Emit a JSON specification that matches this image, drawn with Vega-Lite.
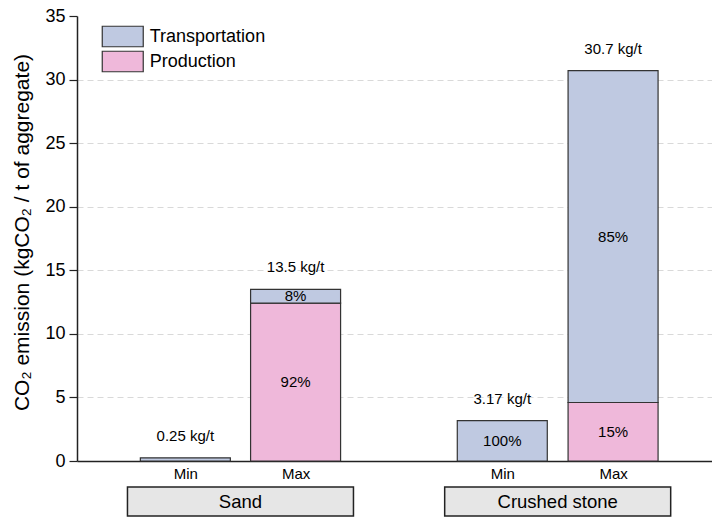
{
  "$schema": "https://vega.github.io/schema/vega-lite/v6.json",
  "width": 635,
  "height": 445,
  "autosize": "none",
  "padding": {"left": 77, "top": 16, "right": 0, "bottom": 56},
  "background": "white",
  "config": {"font": "Liberation Sans", "view": {"stroke": null}},
  "datasets": {
    "bars": [
      {"group": "Sand", "case": "Min", "pos": 1, "component": "Transportation", "value": 0.25, "pct": "", "total": "0.25 kg/t"},
      {"group": "Sand", "case": "Max", "pos": 2, "component": "Production", "value": 12.42, "pct": "92%", "total": ""},
      {"group": "Sand", "case": "Max", "pos": 2, "component": "Transportation", "value": 1.08, "pct": "8%", "total": "13.5 kg/t"},
      {"group": "Crushed stone", "case": "Min", "pos": 3.875, "component": "Transportation", "value": 3.17, "pct": "100%", "total": "3.17 kg/t"},
      {"group": "Crushed stone", "case": "Max", "pos": 4.88, "component": "Production", "value": 4.6, "pct": "15%", "total": ""},
      {"group": "Crushed stone", "case": "Max", "pos": 4.88, "component": "Transportation", "value": 26.1, "pct": "85%", "total": "30.7 kg/t"}
    ],
    "groups": [
      {"group": "Sand", "center": 1.5},
      {"group": "Crushed stone", "center": 4.3775}
    ]
  },
  "layer": [
    {
      "data": {"name": "bars"},
      "transform": [
        {"stack": "value", "groupby": ["pos"], "sort": [{"field": "component", "order": "ascending"}], "as": ["v0", "v1"]}
      ],
      "mark": {"type": "bar", "width": 90, "stroke": "#333333", "strokeWidth": 1.2, "orient": "vertical"},
      "encoding": {
        "x": {
          "field": "pos", "type": "quantitative",
          "scale": {"domain": [0.0625, 5.732], "nice": false, "zero": false},
          "axis": {
            "values": [1, 2, 3.875, 4.88],
            "labelExpr": "(datum.value < 1.5 || (datum.value > 3 && datum.value < 4.4)) ? 'Min' : 'Max'",
            "title": null, "grid": false, "ticks": false,
            "domainColor": "#222222", "domainWidth": 1.5,
            "labelFontSize": 15, "labelColor": "black", "labelPadding": 5
          }
        },
        "y": {
          "field": "v1", "type": "quantitative",
          "scale": {"domain": [0, 35], "nice": false},
          "axis": {
            "values": [0, 2.5, 5, 7.5, 10, 12.5, 15, 17.5, 20, 22.5, 25, 27.5, 30, 32.5, 35],
            "labelExpr": "datum.value % 5 === 0 ? datum.label : ''",
            "tickSize": {"condition": {"test": "datum.value % 5 !== 0", "value": 4.5}, "value": 8},
            "tickColor": "#222222", "tickWidth": 1.2,
            "grid": true, "gridDash": [6, 4], "gridColor": "#d9d9d9", "gridWidth": 1,
            "gridOpacity": {"condition": {"test": "datum.value % 5 !== 0 || datum.value === 0 || datum.value === 35", "value": 0}, "value": 1},
            "domainColor": "#222222", "domainWidth": 1.5,
            "labelFontSize": 18, "labelColor": "black", "labelPadding": 4,
            "title": "CO₂ emission (kgCO₂ / t of aggregate)",
            "titleFontSize": 21, "titleFontWeight": "normal", "titleColor": "black", "titlePadding": 12, "titleY": 216
          }
        },
        "y2": {"field": "v0"},
        "color": {
          "field": "component", "type": "nominal",
          "scale": {"domain": ["Transportation", "Production"], "range": ["#bfc9e1", "#efb8da"]},
          "legend": {
            "orient": "none", "legendX": 34.75, "legendY": 9.5,
            "title": null, "padding": 0,
            "symbolType": "M-2,-1H2V1H-2Z", "symbolSize": 420,
            "symbolStrokeColor": "#333333", "symbolStrokeWidth": 1.2, "symbolOpacity": 1,
            "labelFontSize": 18, "labelColor": "black", "labelOffset": 16, "rowPadding": -1
          }
        }
      }
    },
    {
      "data": {"name": "bars"},
      "transform": [
        {"stack": "value", "groupby": ["pos"], "sort": [{"field": "component", "order": "ascending"}], "as": ["v0", "v1"]},
        {"filter": "datum.total !== ''"}
      ],
      "mark": {"type": "text", "dy": -22, "fontSize": 15, "baseline": "middle", "color": "black"},
      "encoding": {
        "x": {"field": "pos", "type": "quantitative"},
        "y": {"field": "v1", "type": "quantitative"},
        "text": {"field": "total"}
      }
    },
    {
      "data": {"name": "bars"},
      "transform": [
        {"stack": "value", "groupby": ["pos"], "sort": [{"field": "component", "order": "ascending"}], "as": ["v0", "v1"]},
        {"filter": "datum.pct !== ''"},
        {"calculate": "(datum.v0 + datum.v1) / 2", "as": "mid"}
      ],
      "mark": {"type": "text", "fontSize": 15, "baseline": "middle", "color": "black"},
      "encoding": {
        "x": {"field": "pos", "type": "quantitative"},
        "y": {"field": "mid", "type": "quantitative"},
        "text": {"field": "pct"}
      }
    },
    {
      "data": {"name": "groups"},
      "mark": {"type": "bar", "width": 226, "fill": "#e6e6e6", "stroke": "#222222", "strokeWidth": 1.5, "clip": false, "orient": "vertical"},
      "encoding": {
        "x": {"field": "center", "type": "quantitative"},
        "y": {"datum": -2.05},
        "y2": {"datum": -4.33}
      }
    },
    {
      "data": {"name": "groups"},
      "mark": {"type": "text", "fontSize": 18.5, "baseline": "middle", "color": "black", "clip": false},
      "encoding": {
        "x": {"field": "center", "type": "quantitative"},
        "y": {"datum": -3.19},
        "text": {"field": "group"}
      }
    }
  ]
}
